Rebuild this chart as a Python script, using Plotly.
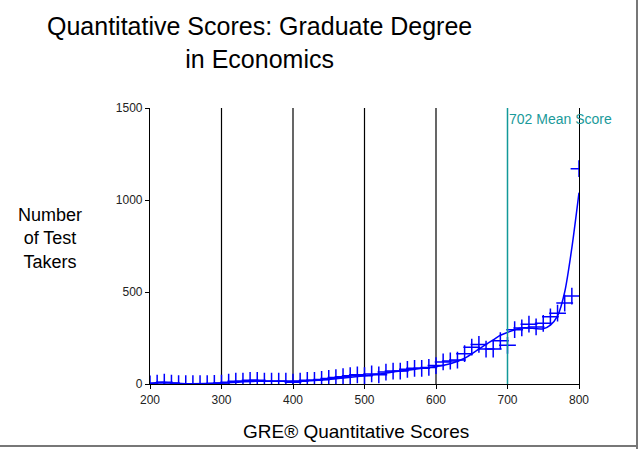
import plotly.graph_objects as go

scores = list(range(200, 801, 10))
takers = [0, 5, 10, 5, 2, 2, 2, 2, 2, 3,
          5, 10, 15, 15, 20, 20, 15, 15, 15, 15,
          10, 15, 20, 20, 25, 30, 35, 40, 45, 50,
          45, 55, 50, 65, 70, 70, 80, 85, 85, 90,
          100, 120, 125, 130, 165, 200, 215, 190, 190, 235,
          210, 295, 305, 325, 310, 330, 365, 385, 440, 478,
          1170]

curve_x = [200, 210, 220, 230, 250, 300, 350, 400, 450, 500, 550, 600, 620, 640, 660,
           680, 690, 700, 710, 720, 730, 740, 750, 760, 770, 780, 790, 800]
curve_y = [0, 8, 10, 5, 2, 5, 15, 15, 25, 45, 70, 95, 110, 140, 190,
           240, 265, 280, 295, 305, 305, 300, 300, 320, 370, 500, 740, 1040]

mean_score = 702
mean_label = "702 Mean Score"
grid_lines = [300, 400, 500, 600]
x_ticks = [200, 300, 400, 500, 600, 700, 800]
y_ticks = [0, 500, 1000, 1500]

# plot area in pixels
L, R, T, B = 150, 579, 108, 384
W, H = 644, 449
def px_x(p):
    return (p - L) / (R - L)
def px_y(p):
    return (B - p) / (B - T)

FONT = "Liberation Sans, Arial"

fig = go.Figure()
fig.add_trace(go.Scatter(x=curve_x, y=curve_y, mode="lines",
                         line=dict(color="#0000FF", width=1.5, shape="spline", smoothing=0.8),
                         hoverinfo="skip", showlegend=False))
fig.add_trace(go.Scatter(x=scores, y=takers, mode="markers",
                         marker=dict(symbol="cross-thin", size=12, line=dict(color="#0000FF", width=1.5)),
                         showlegend=False))

for g in grid_lines:
    fig.add_shape(type="line", x0=g, x1=g, y0=0, y1=1, xref="x", yref="paper",
                  line=dict(color="black", width=1.2), layer="below")

fig.add_shape(type="line", x0=700, x1=700, y0=0, y1=1, xref="x", yref="paper",
              line=dict(color="#119999", width=1.5))
fig.add_annotation(x=700, y=1500, xref="x", yref="y", text=mean_label, showarrow=False,
                   xanchor="left", yanchor="top", xshift=-1, yshift=-1,
                   font=dict(family=FONT, size=14, color="#1a9a9a"))

# frame shadow lines
fig.add_shape(type="line", xref="paper", yref="paper", x0=px_x(637), x1=px_x(637),
              y0=px_y(449), y1=px_y(0), line=dict(color="#777777", width=2))
fig.add_shape(type="line", xref="paper", yref="paper", x0=px_x(0), x1=px_x(638),
              y0=px_y(446), y1=px_y(446), line=dict(color="#777777", width=2))

# title
fig.add_annotation(x=px_x(259), y=px_y(10), xref="paper", yref="paper", xanchor="center", yanchor="top",
                   text="Quantitative Scores: Graduate Degree<br>in Economics", showarrow=False,
                   font=dict(family=FONT, size=25, color="black"), align="center")
# y axis title
fig.add_annotation(x=px_x(50), y=px_y(238), xref="paper", yref="paper", yanchor="middle", xanchor="center",
                   text="Number<br>of Test<br>Takers", showarrow=False,
                   font=dict(family=FONT, size=18, color="black"), align="center")
# x axis title
fig.add_annotation(x=px_x(356), y=px_y(431), xref="paper", yref="paper", yanchor="middle", xanchor="center",
                   text="GRE® Quantitative Scores", showarrow=False,
                   font=dict(family=FONT, size=19, color="black"))

fig.update_layout(
    width=W, height=H,
    margin=dict(l=L, r=W - R, t=T, b=H - B),
    paper_bgcolor="white", plot_bgcolor="white",
    font=dict(family=FONT, color="black"),
    xaxis=dict(range=[200, 800], tickvals=x_ticks, showgrid=False,
               showline=True, linecolor="black", linewidth=1.2, ticks="outside", ticklen=4, tickcolor="black",
               zeroline=False, tickfont=dict(size=12, color="#222222")),
    yaxis=dict(range=[0, 1500], tickvals=y_ticks, showgrid=False, showline=True, linecolor="black", linewidth=1.2,
               mirror=True, ticks="outside", ticklen=4, tickcolor="black", zeroline=False,
               tickfont=dict(size=12, color="#222222")),
)

fig.write_html("out.html")
